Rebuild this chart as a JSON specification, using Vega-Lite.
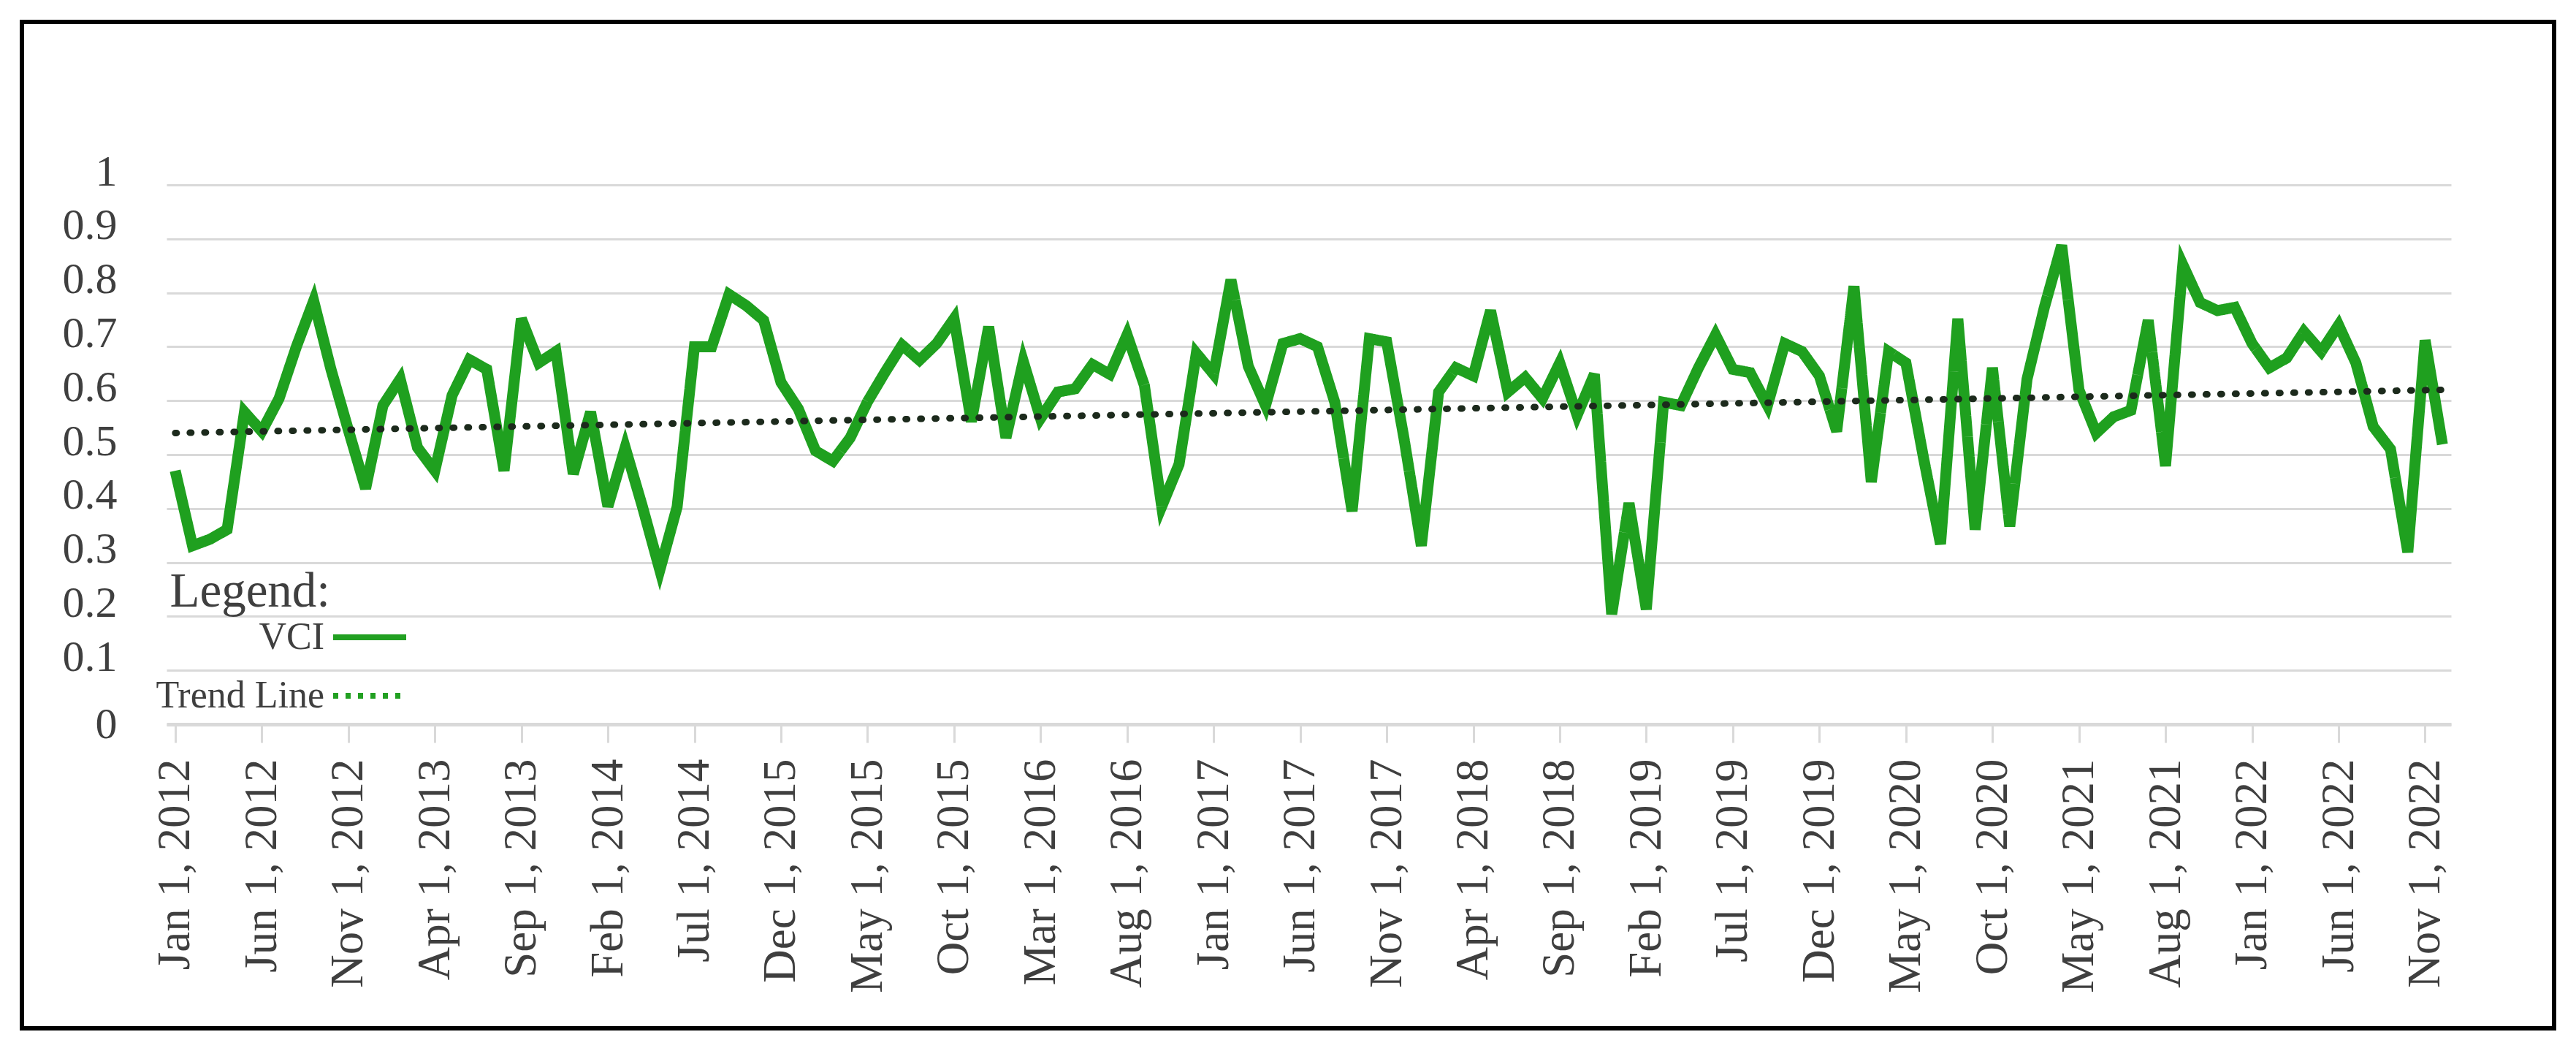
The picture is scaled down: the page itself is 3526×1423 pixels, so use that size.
{
  "$schema": "https://vega.github.io/schema/vega-lite/v6.json",
  "width": 3466,
  "height": 1377,
  "autosize": {"type": "none"},
  "padding": {"left": 30, "top": 30, "right": 30, "bottom": 16},
  "background": "white",
  "config": {
    "view": {"stroke": "black", "strokeWidth": 6},
    "font": "Liberation Serif"
  },
  "data": {"values": [
    {"t": 0, "date": "Jan 1, 2012", "vci": 0.47},
    {"t": 1, "date": "Feb 1, 2012", "vci": 0.331},
    {"t": 2, "date": "Mar 1, 2012", "vci": 0.343},
    {"t": 3, "date": "Apr 1, 2012", "vci": 0.361},
    {"t": 4, "date": "May 1, 2012", "vci": 0.579},
    {"t": 5, "date": "Jun 1, 2012", "vci": 0.543},
    {"t": 6, "date": "Jul 1, 2012", "vci": 0.604},
    {"t": 7, "date": "Aug 1, 2012", "vci": 0.7},
    {"t": 8, "date": "Sep 1, 2012", "vci": 0.785},
    {"t": 9, "date": "Oct 1, 2012", "vci": 0.658},
    {"t": 10, "date": "Nov 1, 2012", "vci": 0.546},
    {"t": 11, "date": "Dec 1, 2012", "vci": 0.437},
    {"t": 12, "date": "Jan 1, 2013", "vci": 0.591},
    {"t": 13, "date": "Feb 1, 2013", "vci": 0.64},
    {"t": 14, "date": "Mar 1, 2013", "vci": 0.513},
    {"t": 15, "date": "Apr 1, 2013", "vci": 0.47},
    {"t": 16, "date": "May 1, 2013", "vci": 0.61},
    {"t": 17, "date": "Jun 1, 2013", "vci": 0.676},
    {"t": 18, "date": "Jul 1, 2013", "vci": 0.658},
    {"t": 19, "date": "Aug 1, 2013", "vci": 0.47},
    {"t": 20, "date": "Sep 1, 2013", "vci": 0.752},
    {"t": 21, "date": "Oct 1, 2013", "vci": 0.67},
    {"t": 22, "date": "Nov 1, 2013", "vci": 0.691},
    {"t": 23, "date": "Dec 1, 2013", "vci": 0.464},
    {"t": 24, "date": "Jan 1, 2014", "vci": 0.579},
    {"t": 25, "date": "Feb 1, 2014", "vci": 0.404},
    {"t": 26, "date": "Mar 1, 2014", "vci": 0.513},
    {"t": 27, "date": "Apr 1, 2014", "vci": 0.403},
    {"t": 28, "date": "May 1, 2014", "vci": 0.286},
    {"t": 29, "date": "Jun 1, 2014", "vci": 0.403},
    {"t": 30, "date": "Jul 1, 2014", "vci": 0.7},
    {"t": 31, "date": "Aug 1, 2014", "vci": 0.7},
    {"t": 32, "date": "Sep 1, 2014", "vci": 0.797},
    {"t": 33, "date": "Oct 1, 2014", "vci": 0.776},
    {"t": 34, "date": "Nov 1, 2014", "vci": 0.749},
    {"t": 35, "date": "Dec 1, 2015", "vci": 0.634},
    {"t": 36, "date": "Jan 1, 2015", "vci": 0.585},
    {"t": 37, "date": "Feb 1, 2015", "vci": 0.507},
    {"t": 38, "date": "Mar 1, 2015", "vci": 0.488},
    {"t": 39, "date": "Apr 1, 2015", "vci": 0.531},
    {"t": 40, "date": "May 1, 2015", "vci": 0.598},
    {"t": 41, "date": "Jun 1, 2015", "vci": 0.652},
    {"t": 42, "date": "Jul 1, 2015", "vci": 0.703},
    {"t": 43, "date": "Aug 1, 2015", "vci": 0.675},
    {"t": 44, "date": "Sep 1, 2015", "vci": 0.706},
    {"t": 45, "date": "Oct 1, 2015", "vci": 0.752},
    {"t": 46, "date": "Nov 1, 2015", "vci": 0.561},
    {"t": 47, "date": "Dec 15, 2015", "vci": 0.737},
    {"t": 48, "date": "Jan 1, 2016", "vci": 0.531},
    {"t": 49, "date": "Feb 1, 2016", "vci": 0.673},
    {"t": 50, "date": "Mar 1, 2016", "vci": 0.567},
    {"t": 51, "date": "Apr 1, 2016", "vci": 0.616},
    {"t": 52, "date": "May 1, 2016", "vci": 0.622},
    {"t": 53, "date": "Jun 1, 2016", "vci": 0.667},
    {"t": 54, "date": "Jul 1, 2016", "vci": 0.649},
    {"t": 55, "date": "Aug 1, 2016", "vci": 0.722},
    {"t": 56, "date": "Sep 1, 2016", "vci": 0.628},
    {"t": 57, "date": "Oct 1, 2016", "vci": 0.404},
    {"t": 58, "date": "Nov 1, 2016", "vci": 0.482},
    {"t": 59, "date": "Dec 1, 2016", "vci": 0.688},
    {"t": 60, "date": "Jan 1, 2017", "vci": 0.649},
    {"t": 61, "date": "Feb 1, 2017", "vci": 0.824},
    {"t": 62, "date": "Mar 1, 2017", "vci": 0.664},
    {"t": 63, "date": "Apr 1, 2017", "vci": 0.591},
    {"t": 64, "date": "May 1, 2017", "vci": 0.706},
    {"t": 65, "date": "Jun 1, 2017", "vci": 0.715},
    {"t": 66, "date": "Jul 1, 2017", "vci": 0.7},
    {"t": 67, "date": "Aug 1, 2017", "vci": 0.597},
    {"t": 68, "date": "Sep 1, 2017", "vci": 0.395},
    {"t": 69, "date": "Oct 1, 2017", "vci": 0.715},
    {"t": 70, "date": "Nov 1, 2017", "vci": 0.709},
    {"t": 71, "date": "Dec 1, 2017", "vci": 0.53},
    {"t": 72, "date": "Jan 1, 2018", "vci": 0.331},
    {"t": 73, "date": "Feb 1, 2018", "vci": 0.616},
    {"t": 74, "date": "Mar 1, 2018", "vci": 0.661},
    {"t": 75, "date": "Apr 1, 2018", "vci": 0.646},
    {"t": 76, "date": "May 1, 2018", "vci": 0.767},
    {"t": 77, "date": "Jun 1, 2018", "vci": 0.616},
    {"t": 78, "date": "Jul 1, 2018", "vci": 0.643},
    {"t": 79, "date": "Aug 1, 2018", "vci": 0.604},
    {"t": 80, "date": "Sep 1, 2018", "vci": 0.67},
    {"t": 81, "date": "Oct 1, 2018", "vci": 0.573},
    {"t": 82, "date": "Nov 1, 2018", "vci": 0.649},
    {"t": 83, "date": "Dec 1, 2018", "vci": 0.204},
    {"t": 84, "date": "Jan 1, 2019", "vci": 0.41},
    {"t": 85, "date": "Feb 1, 2019", "vci": 0.213},
    {"t": 86, "date": "Mar 1, 2019", "vci": 0.597},
    {"t": 87, "date": "Apr 1, 2019", "vci": 0.591},
    {"t": 88, "date": "May 1, 2019", "vci": 0.66},
    {"t": 89, "date": "Jun 1, 2019", "vci": 0.722},
    {"t": 90, "date": "Jul 1, 2019", "vci": 0.658},
    {"t": 91, "date": "Aug 1, 2019", "vci": 0.652},
    {"t": 92, "date": "Sep 1, 2019", "vci": 0.591},
    {"t": 93, "date": "Oct 1, 2019", "vci": 0.706},
    {"t": 94, "date": "Nov 1, 2019", "vci": 0.691},
    {"t": 95, "date": "Dec 1, 2019", "vci": 0.646},
    {"t": 96, "date": "Jan 1, 2020", "vci": 0.543},
    {"t": 97, "date": "Feb 1, 2020", "vci": 0.812},
    {"t": 98, "date": "Mar 1, 2020", "vci": 0.449},
    {"t": 99, "date": "Apr 1, 2020", "vci": 0.691},
    {"t": 100, "date": "May 1, 2020", "vci": 0.67},
    {"t": 101, "date": "Jun 1, 2020", "vci": 0.497},
    {"t": 102, "date": "Jul 1, 2020", "vci": 0.334},
    {"t": 103, "date": "Aug 1, 2020", "vci": 0.752},
    {"t": 104, "date": "Sep 1, 2020", "vci": 0.361},
    {"t": 105, "date": "Oct 1, 2020", "vci": 0.661},
    {"t": 106, "date": "Nov 1, 2020", "vci": 0.367},
    {"t": 107, "date": "Dec 1, 2020", "vci": 0.64},
    {"t": 108, "date": "Jan 1, 2021", "vci": 0.773},
    {"t": 109, "date": "Mar 1, 2021", "vci": 0.888},
    {"t": 110, "date": "May 1, 2021", "vci": 0.62},
    {"t": 111, "date": "Jun 1, 2021", "vci": 0.54},
    {"t": 112, "date": "Jun 15, 2021", "vci": 0.57},
    {"t": 113, "date": "Jul 1, 2021", "vci": 0.582},
    {"t": 114, "date": "Jul 15, 2021", "vci": 0.749},
    {"t": 115, "date": "Aug 1, 2021", "vci": 0.479},
    {"t": 116, "date": "Sep 1, 2021", "vci": 0.852},
    {"t": 117, "date": "Oct 1, 2021", "vci": 0.782},
    {"t": 118, "date": "Nov 1, 2021", "vci": 0.767},
    {"t": 119, "date": "Dec 1, 2021", "vci": 0.773},
    {"t": 120, "date": "Jan 1, 2022", "vci": 0.706},
    {"t": 121, "date": "Feb 1, 2022", "vci": 0.661},
    {"t": 122, "date": "Mar 1, 2022", "vci": 0.679},
    {"t": 123, "date": "Apr 1, 2022", "vci": 0.728},
    {"t": 124, "date": "May 1, 2022", "vci": 0.691},
    {"t": 125, "date": "Jun 1, 2022", "vci": 0.74},
    {"t": 126, "date": "Jul 1, 2022", "vci": 0.67},
    {"t": 127, "date": "Aug 1, 2022", "vci": 0.552},
    {"t": 128, "date": "Sep 1, 2022", "vci": 0.51},
    {"t": 129, "date": "Oct 1, 2022", "vci": 0.319},
    {"t": 130, "date": "Nov 1, 2022", "vci": 0.712},
    {"t": 131, "date": "Dec 1, 2022", "vci": 0.519}
  ]},
  "resolve": {"scale": {"x": "independent"}},
  "layer": [
    {
      "mark": {"type": "line", "color": "#1fa01f", "strokeWidth": 15, "strokeJoin": "miter"},
      "encoding": {
        "x": {
          "field": "date", "type": "ordinal", "sort": null,
          "scale": {"type": "point", "padding": 0.5, "range": [198, 3325]},
          "axis": {
            "title": null,
            "values": ["Jan 1, 2012", "Jun 1, 2012", "Nov 1, 2012", "Apr 1, 2013", "Sep 1, 2013", "Feb 1, 2014", "Jul 1, 2014", "Dec 1, 2015", "May 1, 2015", "Oct 1, 2015", "Mar 1, 2016", "Aug 1, 2016", "Jan 1, 2017", "Jun 1, 2017", "Nov 1, 2017", "Apr 1, 2018", "Sep 1, 2018", "Feb 1, 2019", "Jul 1, 2019", "Dec 1, 2019", "May 1, 2020", "Oct 1, 2020", "May 1, 2021", "Aug 1, 2021", "Jan 1, 2022", "Jun 1, 2022", "Nov 1, 2022"],
            "offset": -416,
            "labelAngle": -90,
            "labelFont": "Liberation Serif",
            "labelFontSize": 63,
            "labelColor": "#3f3f3f",
            "labelPadding": 22,
            "labelLimit": 0,
            "labelOverlap": false,
            "labelBound": false,
            "labelFlush": false,
            "ticks": true,
            "tickSize": 25,
            "tickColor": "#d9d9d9",
            "tickWidth": 3,
            "domain": true,
            "domainColor": "#d9d9d9",
            "domainWidth": 5,
            "grid": false
          }
        },
        "y": {
          "field": "vci", "type": "quantitative",
          "scale": {"domain": [0, 1], "range": [961, 223], "nice": false, "zero": true},
          "axis": {
            "title": null,
            "values": [0, 0.1, 0.2, 0.3, 0.4, 0.5, 0.6, 0.7, 0.8, 0.9, 1],
            "format": "~g",
            "offset": -198,
            "domain": false,
            "ticks": false,
            "tickSize": 0,
            "labelPadding": 68,
            "labelOffset": {"condition": {"test": "datum.value == 0", "value": 0}, "value": -18},
            "labelFont": "Liberation Serif",
            "labelFontSize": 60,
            "labelColor": "#3f3f3f",
            "labelOverlap": false,
            "labelLimit": 0,
            "grid": true,
            "gridColor": "#d9d9d9",
            "gridWidth": 3
          }
        },
        "strokeDash": {
          "datum": "VCI",
          "type": "nominal",
          "scale": {"domain": ["VCI", "Trend Line"], "range": [[1, 0], [7, 10]]},
          "legend": {
            "orient": "none",
            "legendX": 202,
            "legendY": 747,
            "padding": 0,
            "title": "Legend:",
            "titleFont": "Liberation Serif",
            "titleFontSize": 67,
            "titleFontWeight": "normal",
            "titleColor": "#3f3f3f",
            "titleAlign": "right",
            "titleAnchor": "start",
            "titleLimit": 0,
            "titlePadding": -26,
            "labelFont": "Liberation Serif",
            "labelFontSize": 52,
            "labelColor": "#3f3f3f",
            "labelAlign": "right",
            "labelOffset": -116,
            "labelLimit": 0,
            "symbolType": "stroke",
            "symbolSize": 10000,
            "symbolStrokeWidth": 8,
            "symbolStrokeColor": "#22a022",
            "rowPadding": 0
          }
        }
      }
    },
    {
      "data": {"values": [
        {"t": 0, "trend": 0.54},
        {"t": 131, "trend": 0.62}
      ]},
      "mark": {"type": "line", "color": "#1c2a1c", "strokeWidth": 9, "strokeCap": "round", "strokeDash": [2, 18]},
      "encoding": {
        "x": {
          "field": "t", "type": "quantitative",
          "scale": {"domain": [-0.5, 131.5], "range": [198, 3325], "nice": false, "zero": false},
          "axis": null
        },
        "y": {"field": "trend", "type": "quantitative"}
      }
    }
  ]
}
